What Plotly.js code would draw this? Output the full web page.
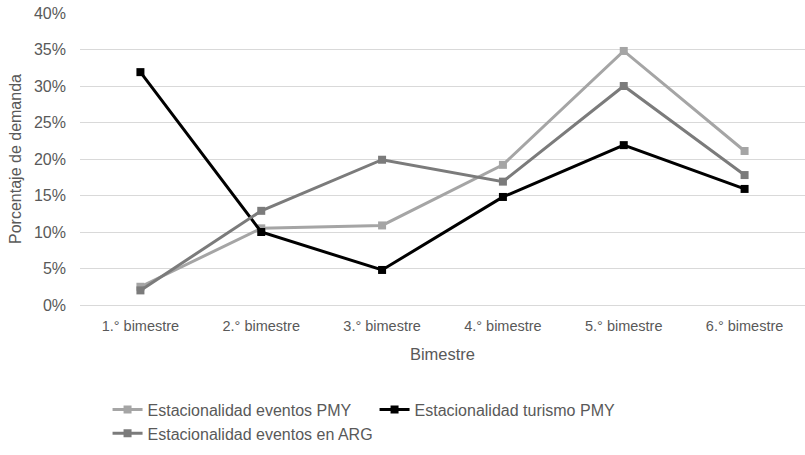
<!DOCTYPE html>
<html>
<head>
<meta charset="utf-8">
<script src="https://cdn.plot.ly/plotly-3.0.1.min.js"></script>
<style>html,body{margin:0;padding:0;background:#fff;}#chart{width:805px;height:455px;}</style>
</head>
<body>
<div id="chart"></div>
<script>
const categories = ["1.° bimestre", "2.° bimestre", "3.° bimestre", "4.° bimestre", "5.° bimestre", "6.° bimestre"];
const eventosPMY = [0.025, 0.105, 0.109, 0.192, 0.348, 0.211];
const turismoPMY = [0.319, 0.100, 0.048, 0.148, 0.219, 0.159];
const eventosARG = [0.020, 0.129, 0.199, 0.169, 0.300, 0.178];
const yTicks = [0, 0.05, 0.10, 0.15, 0.20, 0.25, 0.30, 0.35, 0.40];
const yTickLabels = ["0%", "5%", "10%", "15%", "20%", "25%", "30%", "35%", "40%"];

const FONT = "'Liberation Sans', Arial, sans-serif";

function series(name, y, color) {
  return {
    type: 'scatter', mode: 'lines+markers', name: name,
    x: categories, y: y,
    line: {color: color, width: 3},
    marker: {symbol: 'square', size: 8, color: color}
  };
}

const data = [
  series('Estacionalidad eventos PMY', eventosPMY, '#a5a5a5'),
  series('Estacionalidad turismo PMY', turismoPMY, '#000000'),
  series('Estacionalidad eventos en ARG', eventosARG, '#7b7b7b')
];

const layout = {
  width: 805, height: 455,
  margin: {l: 80, r: 0, t: 13, b: 150},
  paper_bgcolor: '#fff', plot_bgcolor: '#fff',
  font: {family: FONT, color: '#595959', size: 14},
  showlegend: true,
  legend: {
    orientation: 'h', x: 0.038, xanchor: 'left', y: -0.3, yanchor: 'top',
    font: {family: FONT, size: 16, color: '#595959'},
    entrywidth: 222, entrywidthmode: 'pixels',
    tracegroupgap: 0, itemwidth: 30
  },
  xaxis: {
    type: 'category', range: [-0.5, 5.5],
    showgrid: false, zeroline: false, showline: false, ticks: '',
    ticklabelstandoff: 10,
    tickfont: {family: FONT, size: 14.5, color: '#595959'},
    title: {text: 'Bimestre', font: {family: FONT, size: 16.5, color: '#595959'}, standoff: 15}
  },
  yaxis: {
    range: [0, 0.40], tickvals: yTicks, ticktext: yTickLabels,
    showgrid: true, gridcolor: '#d9d9d9', gridwidth: 1,
    zeroline: true, zerolinecolor: '#d9d9d9', zerolinewidth: 1,
    showline: false, ticks: '',
    ticklabelstandoff: 13,
    tickfont: {family: FONT, size: 16, color: '#595959'},
    title: {text: 'Porcentaje de demanda', font: {family: FONT, size: 16, color: '#595959'}, standoff: 8}
  }
};

Plotly.newPlot('chart', data, layout, {displayModeBar: false, responsive: false});
</script>
</body>
</html>
